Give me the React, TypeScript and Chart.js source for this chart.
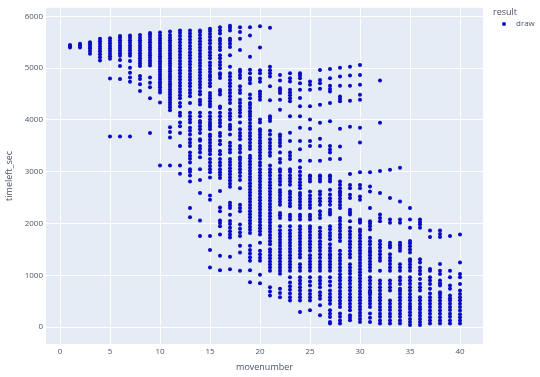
import React, { useEffect, useRef } from "react";
import { Chart, registerables } from "chart.js";

Chart.register(...registerables);

// timeleft_sec values observed at each movenumber (1..40)
const move1 = [5400, 5430, 5450];
const move2 = [5400, 5440, 5470];
const move3 = [5280, 5330, 5380, 5420, 5460, 5500];
const move4 = [5150, 5210, 5270, 5320, 5370, 5420, 5470, 5520, 5570];
const move5 = [3680, 4800, 5180, 5230, 5280, 5330, 5380, 5430, 5480, 5530, 5580];
const move6 = [3680, 4790, 5040, 5160, 5240, 5290, 5340, 5390, 5440, 5490, 5540, 5590, 5620];
const move7 = [3680, 4740, 4820, 4910, 5010, 5140, 5240, 5290, 5340, 5390, 5440, 5490, 5540, 5590, 5630];
const move8 = [4560, 4690, 4790, 4850, 5040, 5090, 5140, 5190, 5240, 5290, 5340, 5390, 5440, 5490, 5540, 5590, 5640];
const move9 = [3750, 4420, 4630, 4720, 4820, 5050, 5100, 5150, 5200, 5250, 5300, 5350, 5400, 5450, 5500, 5550, 5600, 5650, 5680];
const move10 = [3120, 4340, 4530, 4580, 4630, 4680, 4730, 4780, 4830, 4880, 4930, 4980, 5030, 5080, 5130, 5180, 5230, 5280, 5330, 5380, 5430, 5480, 5530, 5580, 5630, 5690];
const move11 = [3120, 3660, 3770, 3860, 4190, 4240, 4290, 4340, 4390, 4440, 4490, 4540, 4590, 4640, 4690, 4740, 4790, 4840, 4890, 4940, 4990, 5040, 5090, 5140, 5190, 5240, 5290, 5340, 5390, 5440, 5490, 5540, 5590, 5640, 5710];
const move12 = [2960, 3120, 3500, 3750, 3880, 3950, 4080, 4140, 4260, 4330, 4420, 4480, 4540, 4600, 4660, 4720, 4780, 4840, 4900, 4960, 5020, 5080, 5140, 5200, 5260, 5320, 5380, 5440, 5500, 5560, 5620, 5680, 5730];
const move13 = [2120, 2300, 2810, 2930, 3000, 3050, 3180, 3250, 3310, 3370, 3500, 3560, 3630, 3720, 3790, 3850, 3950, 4010, 4070, 4140, 4330, 4460, 4520, 4580, 4650, 4710, 4770, 4830, 4890, 4950, 5010, 5070, 5130, 5190, 5250, 5310, 5370, 5430, 5490, 5550, 5610, 5670, 5730];
const move14 = [1760, 2060, 2590, 2840, 3050, 3280, 3370, 3440, 3500, 3600, 3630, 3750, 3820, 3880, 3940, 3980, 4070, 4140, 4300, 4350, 4390, 4490, 4550, 4620, 4680, 4740, 4800, 4860, 4920, 4980, 5040, 5100, 5160, 5220, 5280, 5340, 5400, 5460, 5520, 5580, 5640, 5700, 5730];
const move15 = [1150, 1490, 1760, 2460, 2540, 2890, 2990, 3050, 3110, 3180, 3245, 3340, 3400, 3440, 3500, 3560, 3620, 3680, 3720, 3820, 3870, 3910, 3950, 4010, 4070, 4140, 4260, 4310, 4360, 4420, 4470, 4520, 4650, 4710, 4770, 4830, 4870, 4930, 4990, 5050, 5110, 5190, 5250, 5310, 5370, 5410, 5480, 5540, 5600, 5660, 5720, 5760];
const move16 = [1100, 1380, 1790, 1950, 2010, 2060, 2240, 2310, 2630, 2880, 2940, 2990, 3050, 3120, 3180, 3245, 3340, 3400, 3530, 3600, 3690, 3750, 3880, 3940, 4000, 4070, 4140, 4230, 4260, 4490, 4550, 4580, 4810, 4870, 4900, 5000, 5060, 5120, 5190, 5250, 5350, 5410, 5470, 5530, 5570, 5670, 5730, 5790];
const move17 = [1120, 1360, 1730, 1790, 1850, 1920, 1990, 2050, 2170, 2300, 2350, 2400, 2710, 2770, 2830, 2890, 2950, 3010, 3070, 3130, 3190, 3245, 3370, 3430, 3500, 3560, 3720, 3820, 3870, 3910, 4010, 4070, 4130, 4200, 4330, 4390, 4460, 4520, 4580, 4650, 4710, 4770, 4840, 4900, 5030, 5250, 5410, 5470, 5530, 5570, 5730, 5780, 5820];
const move18 = [1090, 1440, 1570, 1760, 1830, 1900, 1980, 2240, 2300, 2365, 2680, 2840, 2920, 2990, 3050, 3110, 3170, 3230, 3280, 3370, 3440, 3500, 3630, 3690, 3750, 3820, 3950, 4070, 4140, 4200, 4260, 4330, 4390, 4520, 4580, 4650, 4810, 4870, 4930, 4970, 5350, 5570, 5700, 5790];
const move19 = [865, 1100, 1280, 1350, 1420, 1490, 1570, 1820, 1880, 1940, 2000, 2060, 2120, 2180, 2240, 2300, 2360, 2420, 2480, 2540, 2600, 2660, 2720, 2780, 2840, 2900, 2960, 3020, 3080, 3140, 3200, 3260, 3310, 3440, 3500, 3560, 3630, 3690, 3750, 3820, 3880, 3940, 4010, 4070, 4120, 4170, 4230, 4290, 4330, 4420, 4490, 4710, 4770, 4810, 4900, 4970, 5220, 5630, 5790];
const move20 = [848, 1014, 1281, 1340, 1410, 1473, 1632, 1790, 1850, 1910, 1970, 2030, 2090, 2150, 2210, 2270, 2330, 2390, 2450, 2510, 2570, 2630, 2690, 2750, 2810, 2870, 2930, 2990, 3050, 3120, 3180, 3250, 3310, 3370, 3430, 3490, 3550, 3600, 3660, 3720, 3780, 3820, 3950, 4010, 4390, 4450, 4500, 4550, 4740, 4800, 4900, 4960, 5400, 5810];
const move21 = [612, 690, 772, 1090, 1150, 1210, 1270, 1330, 1390, 1450, 1505, 1600, 1660, 1720, 1780, 1840, 1900, 1960, 2020, 2080, 2140, 2200, 2260, 2320, 2380, 2440, 2500, 2560, 2620, 2680, 2740, 2800, 2860, 2930, 2990, 3050, 3120, 3310, 3370, 3440, 3500, 3560, 3630, 3720, 3790, 3980, 4030, 4070, 4380, 4650, 4840, 4900, 4960, 5030, 5780];
const move22 = [580, 660, 740, 1030, 1090, 1150, 1210, 1270, 1330, 1390, 1450, 1510, 1570, 1630, 1690, 1750, 1810, 1870, 1950, 2110, 2160, 2205, 2365, 2420, 2480, 2540, 2600, 2650, 2750, 2810, 2870, 2930, 3000, 3050, 3180, 3245, 3370, 3500, 3560, 3620, 3680, 3720, 4200, 4390, 4520, 4570, 4615, 4760, 4870];
const move23 = [517, 580, 650, 720, 790, 860, 963, 1090, 1150, 1210, 1270, 1330, 1390, 1450, 1510, 1570, 1630, 1690, 1750, 1810, 1870, 1950, 2078, 2130, 2170, 2333, 2390, 2450, 2510, 2570, 2620, 2750, 2810, 2870, 2930, 3000, 3050, 3245, 3310, 3372, 3595, 3754, 4073, 4360, 4420, 4480, 4530, 4583, 4742, 4806, 4901];
const move24 = [294, 517, 580, 640, 708, 772, 840, 900, 963, 1090, 1150, 1217, 1345, 1410, 1470, 1530, 1590, 1650, 1710, 1770, 1830, 1890, 1950, 2078, 2130, 2170, 2300, 2360, 2420, 2480, 2540, 2590, 2683, 2740, 2800, 2860, 2930, 3000, 3085, 3213, 3436, 3595, 3850, 4073, 4264, 4424, 4583, 4710, 4806, 4860, 4901];
const move25 = [325, 517, 580, 640, 708, 804, 880, 963, 1090, 1150, 1210, 1270, 1330, 1390, 1473, 1536, 1600, 1660, 1720, 1780, 1840, 1900, 1950, 2078, 2130, 2170, 2300, 2360, 2420, 2480, 2540, 2620, 2810, 2860, 2907, 2926, 3213, 3500, 3595, 3831, 4009, 4264, 4583, 4678, 4742];
const move26 = [230, 421, 549, 610, 676, 772, 840, 900, 963, 1090, 1150, 1210, 1270, 1340, 1409, 1473, 1540, 1600, 1660, 1730, 1790, 1850, 1920, 2110, 2170, 2237, 2365, 2430, 2490, 2560, 2620, 2810, 2860, 2907, 2926, 3213, 3500, 3640, 3945, 4296, 4602, 4710, 4774, 4965];
const move27 = [70, 102, 198, 260, 325, 453, 520, 580, 640, 708, 804, 880, 963, 1090, 1150, 1210, 1270, 1330, 1377, 1409, 1470, 1530, 1600, 1696, 1759, 1820, 1890, 1950, 2174, 2220, 2269, 2365, 2430, 2490, 2560, 2651, 2810, 2860, 2907, 2926, 3245, 3372, 3430, 3500, 3977, 4328, 4551, 4600, 4659, 4806, 4984];
const move28 = [70, 130, 200, 262, 390, 450, 510, 580, 640, 700, 770, 835, 899, 960, 1020, 1090, 1154, 1218, 1280, 1340, 1410, 1473, 1664, 1730, 1790, 1855, 1919, 1980, 2050, 2110, 2301, 2360, 2420, 2480, 2540, 2588, 2620, 2680, 2750, 2811, 3245, 3487, 3831, 4360, 4410, 4455, 4659, 4838, 5010];
const move29 = [134, 180, 230, 325, 390, 450, 520, 580, 640, 708, 772, 840, 900, 960, 1030, 1090, 1150, 1217, 1345, 1410, 1470, 1540, 1600, 1660, 1727, 1791, 1850, 1919, 2046, 2174, 2220, 2269, 2492, 2556, 2683, 2747, 2958, 3869, 4372, 4659, 4857, 5029];
const move30 = [102, 160, 220, 280, 340, 400, 460, 520, 580, 640, 700, 760, 820, 880, 940, 1000, 1060, 1120, 1180, 1240, 1300, 1360, 1420, 1480, 1540, 1600, 1660, 1720, 1780, 1840, 1887, 2014, 2050, 2078, 2460, 2524, 2683, 2747, 2989, 3563, 3850, 4392, 4487, 4678, 4870, 5061];
const move31 = [102, 180, 262, 390, 450, 510, 570, 630, 676, 708, 770, 840, 900, 963, 1090, 1150, 1210, 1270, 1330, 1390, 1440, 1473, 1530, 1600, 1660, 1727, 1887, 1950, 2000, 2046, 2301, 2620, 2715, 2989];
const move32 = [70, 130, 200, 260, 330, 390, 453, 520, 580, 640, 710, 770, 840, 899, 1090, 1281, 1340, 1410, 1470, 1540, 1600, 1664, 2046, 2110, 2174, 2588, 3015, 3945, 4761];
const move33 = [70, 130, 200, 260, 330, 390, 450, 517, 708, 770, 840, 899, 1090, 1150, 1220, 1280, 1340, 1409, 1536, 1580, 1632, 2014, 2078, 2492, 3040];
const move34 = [70, 130, 200, 260, 320, 390, 450, 520, 580, 640, 700, 740, 835, 900, 963, 1090, 1150, 1217, 1473, 1530, 1580, 1632, 2014, 2078, 2428, 3078];
const move35 = [40, 100, 160, 230, 290, 350, 400, 453, 520, 580, 640, 710, 770, 840, 900, 963, 1090, 1150, 1210, 1270, 1313, 1441, 1500, 1560, 1620, 1664, 1919, 2078, 2301];
const move36 = [40, 100, 160, 220, 280, 340, 390, 453, 520, 580, 708, 770, 840, 931, 1027, 1090, 1154, 1250, 1313, 1919, 1980, 2030, 2078];
const move37 = [70, 130, 190, 260, 320, 390, 450, 517, 580, 650, 740, 835, 900, 963, 1090, 1122, 1740, 1868];
const move38 = [70, 130, 190, 260, 320, 390, 450, 517, 580, 630, 676, 804, 850, 899, 1027, 1090, 1218, 1740, 1800, 1868];
const move39 = [70, 130, 200, 260, 330, 390, 453, 517, 560, 612, 740, 804, 963, 1090, 1760];
const move40 = [70, 130, 190, 250, 320, 390, 453, 520, 580, 640, 708, 835, 963, 1027, 1250, 1791];

const timeleftByMove = [
  move1, move2, move3, move4, move5, move6, move7, move8, move9, move10,
  move11, move12, move13, move14, move15, move16, move17, move18, move19, move20,
  move21, move22, move23, move24, move25, move26, move27, move28, move29, move30,
  move31, move32, move33, move34, move35, move36, move37, move38, move39, move40,
];

const xTicks = [0, 5, 10, 15, 20, 25, 30, 35, 40];
const yTicks = [0, 1000, 2000, 3000, 4000, 5000, 6000];
const seriesName = "draw";
const legendTitle = "result";
const xTitle = "movenumber";
const yTitle = "timeleft_sec";

const MARKER = "#0a0ac0";
const TEXT = "#4a5568";
const FONT = "'Open Sans', Verdana, Arial, sans-serif";

export default function App() {
  const ref = useRef<HTMLCanvasElement | null>(null);

  useEffect(() => {
    if (!ref.current) return;
    const points = timeleftByMove.flatMap((vals, i) =>
      vals.map((v) => ({ x: i + 1, y: v }))
    );

    const bgPlugin = {
      id: "plotBg",
      beforeDraw(chart: any) {
        const { ctx, chartArea } = chart;
        ctx.save();
        ctx.fillStyle = "#E5ECF6";
        ctx.fillRect(chartArea.left, chartArea.top, chartArea.right - chartArea.left, chartArea.bottom - chartArea.top);
        ctx.restore();
      },
    };

    const legendPlugin = {
      id: "plotLegend",
      afterDraw(chart: any) {
        const { ctx } = chart;
        ctx.save();
        ctx.fillStyle = TEXT;
        ctx.textBaseline = "middle";
        ctx.textAlign = "left";
        ctx.font = `9px ${FONT}`;
        ctx.fillText(legendTitle, 493, 12);
        ctx.beginPath();
        ctx.arc(504, 24, 2, 0, Math.PI * 2);
        ctx.fillStyle = MARKER;
        ctx.fill();
        ctx.fillStyle = TEXT;
        ctx.font = `8px ${FONT}`;
        ctx.fillText(seriesName, 516, 24);
        ctx.restore();
      },
    };

    const chart = new Chart(ref.current, {
      type: "scatter",
      data: {
        datasets: [
          {
            label: seriesName,
            data: points,
            backgroundColor: MARKER,
            borderColor: MARKER,
            borderWidth: 0,
            pointRadius: 2,
            pointHoverRadius: 2,
          },
        ],
      },
      options: {
        animation: false,
        responsive: false,
        devicePixelRatio: 1,
        layout: { padding: { top: 4, right: 57, left: 0, bottom: 0 } },
        plugins: { legend: { display: false }, tooltip: { enabled: false } },
        scales: {
          x: {
            type: "linear",
            min: -1.4,
            max: 42.3,
            afterBuildTicks: (axis: any) => {
              axis.ticks = xTicks.map((v) => ({ value: v }));
            },
            afterFit: (axis: any) => {
              axis.height = 33;
            },
            grid: { color: "#ffffff", lineWidth: 1, drawTicks: false },
            border: { display: false },
            ticks: { color: TEXT, font: { family: FONT, size: 8 }, padding: 3, maxRotation: 0, callback: (v: any) => String(v) },
            title: { display: true, text: xTitle, color: TEXT, font: { family: FONT, size: 9 }, padding: { top: 0, bottom: 4 } },
          },
          y: {
            type: "linear",
            min: -325,
            max: 6166,
            afterBuildTicks: (axis: any) => {
              axis.ticks = yTicks.map((v) => ({ value: v }));
            },
            afterFit: (axis: any) => {
              axis.width = 46;
            },
            grid: { color: "#ffffff", lineWidth: 1, drawTicks: false },
            border: { display: false },
            ticks: { color: TEXT, font: { family: FONT, size: 8 }, padding: 3, callback: (v: any) => String(v) },
            title: { display: true, text: yTitle, color: TEXT, font: { family: FONT, size: 9 }, padding: { top: 4, bottom: 0 } },
          },
        },
      },
      plugins: [bgPlugin, legendPlugin],
    });
    return () => chart.destroy();
  }, []);

  return (
    <div style={{ position: "fixed", left: 0, top: 0, width: 540, height: 377, background: "#fff" }}>
      <canvas ref={ref} width={540} height={377} style={{ width: 540, height: 377 }} />
    </div>
  );
}
